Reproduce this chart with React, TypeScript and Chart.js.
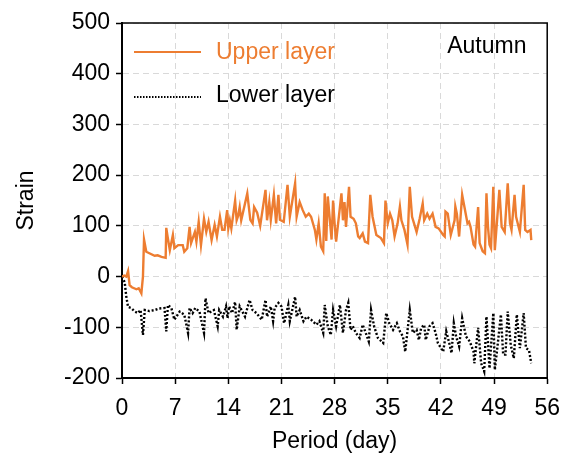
import React, { useEffect, useRef } from "react";
import { Chart, registerables } from "chart.js";

Chart.register(...registerables);

// Upper layer strain readings (day, strain)
const upperDays = [
  0, 0.3, 0.57, 0.8, 1.0, 1.3, 1.9, 2.2, 2.55, 2.76, 2.9, 3.2, 3.6, 4.3, 4.7, 5.2, 5.75, 5.83, 6.0, 6.3,
  6.7, 6.9, 7.4, 8.0, 8.2, 8.6, 8.9, 9.1, 9.6, 9.8, 10.1, 10.4, 10.8, 11.1, 11.4, 11.8, 12.2, 12.5, 12.9, 13.2,
  13.5, 13.85, 14.0, 14.2, 14.4, 14.9, 15.1, 15.3, 15.5, 15.7, 16.5, 16.9, 17.2, 17.4, 17.8, 18.2, 18.9, 19.1, 19.4, 19.6,
  20.0, 20.3, 20.6, 20.8, 21.3, 21.8, 22.1, 22.8, 23.0, 23.4, 23.8, 24.2, 24.6, 24.9, 25.4, 25.6, 25.9, 26.2, 26.5, 26.7,
  26.9, 27.1, 27.6, 27.8, 28.0, 28.2, 28.9, 29.1, 29.3, 29.5, 29.9, 30.1, 30.5, 30.8, 31.1, 31.3, 31.7, 32.0, 32.4, 32.7,
  33.0, 33.5, 34.1, 34.5, 34.7, 35.0, 35.3, 35.6, 35.9, 36.3, 36.6, 36.8, 37.2, 37.6, 37.75, 37.9, 38.2, 38.8, 39.2, 39.6,
  39.8, 40.2, 40.5, 40.9, 41.3, 41.7, 42.3, 42.5, 42.6, 42.9, 43.3, 43.8, 43.9, 44.1, 44.4, 44.8, 45.1, 45.5, 45.7, 45.9,
  46.3, 46.5, 46.9, 47.1, 47.5, 47.8, 48.0, 48.2, 48.4, 48.6, 48.9, 49.1, 49.7, 50.0, 50.4, 50.8, 51.1, 51.3, 51.7, 51.9,
  52.4, 52.9, 53.1, 53.4, 53.8, 53.9,
];
const upperStrain = [
  0, 2, 0, 11, -17, -21, -25, -23, -33, 0, 73, 49, 46, 41, 42, 39, 37, 96, 79, 52,
  82, 56, 62, 62, 49, 56, 98, 66, 88, 69, 108, 62, 114, 88, 108, 72, 102, 79, 118, 92,
  92, 131, 95, 111, 95, 150, 111, 120, 137, 111, 164, 112, 105, 137, 126, 100, 171, 111, 147, 112,
  161, 105, 161, 112, 108, 181, 118, 184, 118, 147, 131, 118, 124, 118, 92, 73, 105, 59, 50, 164,
  70, 158, 73, 150, 105, 69, 164, 111, 147, 98, 177, 118, 114, 105, 79, 76, 85, 69, 66, 161,
  118, 82, 76, 66, 150, 105, 124, 111, 79, 105, 138, 111, 92, 63, 124, 177, 118, 88, 114, 144,
  111, 124, 114, 124, 98, 95, 82, 79, 128, 124, 82, 111, 138, 124, 79, 161, 137, 105, 108, 98,
  63, 59, 137, 66, 50, 46, 164, 98, 63, 56, 177, 52, 171, 98, 88, 184, 105, 92, 161, 118,
  88, 181, 92, 88, 92, 72,
];

// Lower layer strain readings (day, strain)
const lowerDays = [
  0, 0.35, 0.57, 0.8, 1.2, 1.7, 2.1, 2.45, 2.76, 3.0, 3.6, 4.3, 4.9, 5.6, 5.83, 6.05, 6.5, 6.9, 7.6, 8.2,
  8.7, 8.9, 9.3, 9.65, 10.2, 10.8, 11.0, 11.4, 12.1, 12.6, 12.8, 13.3, 13.7, 13.9, 14.1, 14.5, 14.9, 15.1, 15.5, 15.96,
  16.2, 16.8, 17.2, 17.7, 18.4, 18.9, 19.1, 19.6, 19.9, 20.1, 20.6, 21.0, 21.35, 21.9, 22.1, 22.8, 23.0, 23.4, 23.9, 24.3,
  24.9, 25.6, 26.0, 26.5, 26.7, 27.1, 27.5, 27.8, 28.0, 28.2, 28.7, 29.1, 29.5, 29.8, 30.1, 30.4, 30.8, 31.3, 31.7, 32.1,
  32.5, 32.8, 33.2, 33.7, 34.4, 34.8, 35.2, 35.7, 36.2, 36.6, 37.0, 37.3, 37.9, 38.3, 38.8, 39.1, 39.4, 39.8, 40.0, 40.5,
  40.9, 41.3, 41.6, 42.3, 42.7, 43.1, 43.4, 43.7, 44.0, 44.4, 44.8, 45.3, 45.8, 46.3, 46.4, 46.9, 47.3, 47.7, 48.0, 48.4,
  48.9, 49.1, 49.5, 49.9, 50.2, 50.5, 50.8, 51.2, 51.6, 52.0, 52.4, 52.9, 53.2, 53.6, 53.9,
];
const lowerStrain = [
  0, -11, -40, -60, -62, -69, -72, -66, -115, -66, -68, -66, -63, -62, -108, -56, -62, -85, -69, -75,
  -111, -62, -72, -62, -69, -111, -43, -72, -66, -98, -66, -79, -59, -82, -59, -72, -50, -105, -59, -72,
  -79, -46, -66, -72, -85, -46, -79, -59, -88, -62, -52, -59, -92, -56, -88, -40, -79, -66, -88, -79,
  -85, -95, -88, -111, -56, -98, -115, -66, -82, -98, -56, -111, -66, -52, -105, -98, -111, -121, -95, -111,
  -128, -66, -98, -121, -131, -72, -92, -105, -92, -108, -118, -148, -66, -111, -105, -125, -101, -95, -125, -98,
  -92, -111, -131, -148, -108, -131, -151, -92, -118, -138, -82, -118, -128, -148, -171, -101, -171, -187, -79, -181,
  -72, -184, -131, -75, -154, -154, -69, -135, -161, -75, -141, -72, -141, -145, -171,
];

const X_MIN = 0;
const X_MAX = 56;
const X_STEP = 7;
const Y_MIN = -200;
const Y_MAX = 500;
const Y_STEP = 100;

const UPPER_LABEL = "Upper layer";
const LOWER_LABEL = "Lower layer";
const SEASON_LABEL = "Autumn";

const ORANGE = "#ED7D31";
const FONT = "'Liberation Sans', Arial, sans-serif";
const FONT_SIZE = 23;

const toPoints = (xs: number[], ys: number[]) => xs.map((x, i) => ({ x, y: ys[i] }));

// Frame on top/right plus the in-plot legend and season tag
const framePlugin = {
  id: "frameAndLegend",
  afterDraw(chart: any) {
    const { ctx, chartArea } = chart;
    const { left, top, right, bottom } = chartArea;
    ctx.save();
    ctx.strokeStyle = "#000";
    ctx.lineWidth = 1.5;
    ctx.beginPath();
    ctx.moveTo(left, top);
    ctx.lineTo(right, top);
    ctx.lineTo(right, bottom);
    ctx.stroke();

    ctx.font = `${FONT_SIZE}px ${FONT}`;
    ctx.textBaseline = "middle";
    ctx.textAlign = "left";

    // Upper layer entry
    const y1 = top + 29;
    ctx.strokeStyle = ORANGE;
    ctx.lineWidth = 2;
    ctx.setLineDash([]);
    ctx.beginPath();
    ctx.moveTo(left + 12, y1);
    ctx.lineTo(left + 79, y1);
    ctx.stroke();
    ctx.fillStyle = ORANGE;
    ctx.fillText(UPPER_LABEL, left + 94, y1 + 1);

    // Lower layer entry
    const y2 = top + 74;
    ctx.strokeStyle = "#000";
    ctx.lineWidth = 2;
    ctx.setLineDash([1.5, 1.5]);
    ctx.beginPath();
    ctx.moveTo(left + 12, y2);
    ctx.lineTo(left + 79, y2);
    ctx.stroke();
    ctx.setLineDash([]);
    ctx.fillStyle = "#000";
    ctx.fillText(LOWER_LABEL, left + 94, y2 - 1);

    ctx.fillText(SEASON_LABEL, right - 100, top + 24);
    ctx.restore();
  },
};

export default function App() {
  const canvasRef = useRef<HTMLCanvasElement | null>(null);

  useEffect(() => {
    const canvas = canvasRef.current;
    if (!canvas) return;
    Chart.defaults.font.family = FONT;

    const gridCommon = {
      color: "#d9d9d9",
      lineWidth: 1,
      borderDash: [6, 4],
      tickLength: 6,
      tickColor: "#000",
      tickWidth: 1.5,
      tickBorderDash: [],
    };

    const chart = new Chart(canvas, {
      type: "line",
      data: {
        datasets: [
          {
            label: UPPER_LABEL,
            data: toPoints(upperDays, upperStrain),
            borderColor: ORANGE,
            backgroundColor: ORANGE,
            borderWidth: 2.4,
            pointRadius: 0,
            tension: 0,
          },
          {
            label: LOWER_LABEL,
            data: toPoints(lowerDays, lowerStrain),
            borderColor: "#000",
            backgroundColor: "#000",
            borderWidth: 2.4,
            borderDash: [2, 2],
            pointRadius: 0,
            tension: 0,
          },
        ],
      },
      options: {
        responsive: false,
        animation: false,
        layout: { padding: { top: 23, right: 23, left: 0, bottom: 0 } },
        plugins: { legend: { display: false }, tooltip: { enabled: false } },
        scales: {
          x: {
            type: "linear",
            min: X_MIN,
            max: X_MAX,
            ticks: {
              stepSize: X_STEP,
              autoSkip: false,
              maxRotation: 0,
              padding: 11,
              color: "#000",
              font: { size: FONT_SIZE },
            },
            grid: gridCommon as any,
            border: { color: "#000", width: 2, dash: [6, 4] } as any,
            title: {
              display: true,
              text: "Period (day)",
              color: "#000",
              font: { size: FONT_SIZE },
              padding: { top: 0, bottom: 2 },
            },
            afterFit: (s: any) => {
              s.height = 79;
            },
          },
          y: {
            type: "linear",
            min: Y_MIN,
            max: Y_MAX,
            ticks: {
              stepSize: Y_STEP,
              padding: 6,
              color: "#000",
              font: { size: FONT_SIZE },
            },
            grid: gridCommon as any,
            border: { color: "#000", width: 2, dash: [6, 4] } as any,
            title: {
              display: true,
              text: "Strain",
              color: "#000",
              font: { size: FONT_SIZE },
              padding: { top: 13, bottom: 0 },
            },
            afterFit: (s: any) => {
              s.width = 122;
            },
          },
        },
      } as any,
      plugins: [framePlugin],
    });

    return () => chart.destroy();
  }, []);

  return (
    <div style={{ position: "absolute", left: 0, top: 0, width: 571, height: 457, background: "#fff" }}>
      <canvas ref={canvasRef} width={571} height={457} style={{ display: "block" }} />
    </div>
  );
}
